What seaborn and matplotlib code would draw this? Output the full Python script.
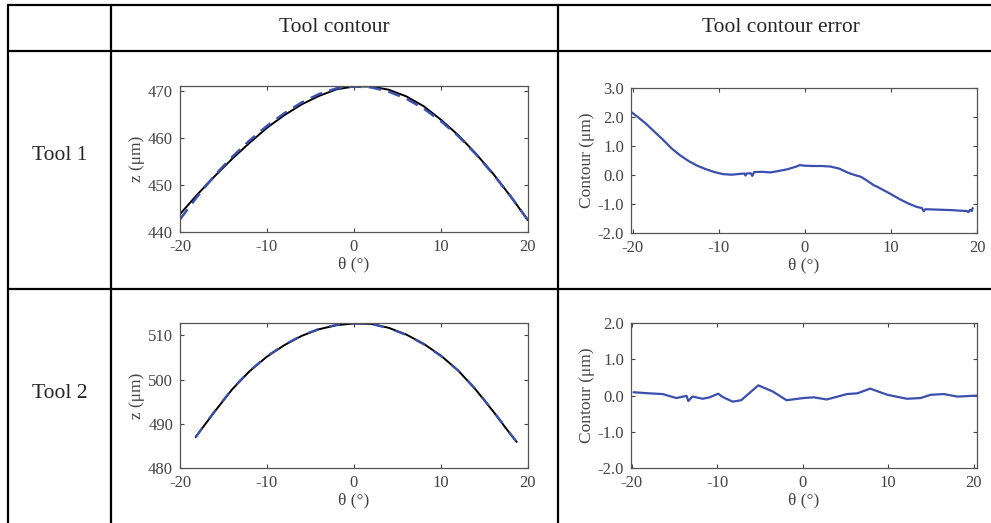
import numpy as np
import pandas as pd
import matplotlib
matplotlib.use("Agg")
import matplotlib.pyplot as plt
import matplotlib.ticker as mticker
import seaborn as sns

# ---- data ----
theta_c1 = [-20, -18, -16, -14, -12, -10, -8, -6, -4, -2, 0, 2, 4, 6, 8, 10, 12, 14, 16, 18, 20]
z_tool1_meas = [443.8, 448.0, 451.9, 455.6, 459.0, 462.2, 464.9, 467.2, 469.0, 470.4, 471.0,
                471.0, 470.3, 468.9, 466.8, 463.9, 460.6, 456.7, 452.4, 447.6, 442.5]
z_tool1_ref = [442.7, 447.6, 452.1, 456.0, 459.5, 462.6, 465.3, 467.6, 469.4, 470.6, 471.0,
               470.8, 469.9, 468.4, 466.3, 463.6, 460.4, 456.6, 452.3, 447.6, 442.5]

theta_c2 = [-18.2, -16, -14, -12, -10, -8, -6, -4, -2, 0, 2, 4, 6, 8, 10, 12, 14, 16, 18, 18.7]
z_tool2_meas = [487.0, 492.8, 497.8, 501.9, 505.2, 507.8, 509.9, 511.4, 512.3, 512.7,
                512.6, 511.7, 510.2, 508.1, 505.4, 502.0, 497.7, 492.8, 487.6, 485.9]
z_tool2_ref = [487.0, 492.9, 497.9, 502.0, 505.3, 507.9, 510.0, 511.5, 512.4, 512.7,
               512.6, 511.6, 510.1, 508.0, 505.3, 502.0, 497.8, 492.9, 487.7, 485.9]

theta_e1 = [-20.3, -19.5, -18.5, -17.5, -16.5, -15.5, -14.5, -13.5, -12.5, -11.5, -10.5,
            -9.5, -8.5, -7.5, -7.0, -6.9, -6.8, -6.3, -6.1, -5.9, -5.0, -4.0, -3.0, -2.0,
            -1.0, -0.6, 0.0, 1.0, 2.0, 3.0, 4.0, 5.0, 6.0, 6.5, 7.0, 8.0, 8.5, 9.0, 10.0,
            11.0, 12.0, 13.0, 13.6, 13.8, 14.0, 15.0, 16.0, 17.0, 18.0, 18.8, 19.0, 19.2,
            19.4, 19.5]
err_tool1 = [2.20, 2.02, 1.78, 1.50, 1.22, 0.92, 0.68, 0.48, 0.32, 0.20, 0.10,
             0.03, 0.01, 0.04, 0.05, -0.02, 0.05, 0.06, -0.03, 0.10, 0.11, 0.09, 0.14, 0.20,
             0.29, 0.34, 0.32, 0.31, 0.31, 0.29, 0.22, 0.08, -0.02, -0.06, -0.15, -0.35, -0.42,
             -0.50, -0.66, -0.83, -0.98, -1.10, -1.14, -1.25, -1.18, -1.19, -1.20, -1.21,
             -1.23, -1.24, -1.28, -1.20, -1.24, -1.14]

theta_e2 = [-19.8, -18.0, -16.4, -14.8, -13.6, -13.4, -12.9, -11.7, -10.9, -9.9, -9.3,
            -8.2, -7.2, -5.2, -3.5, -1.9, 0.1, 1.3, 2.8, 5.2, 6.4, 7.9, 9.9, 12.2, 13.8,
            15.0, 16.5, 18.1, 20.7]
err_tool2 = [0.09, 0.06, 0.04, -0.07, -0.01, -0.15, -0.03, -0.09, -0.05, 0.05, -0.05,
             -0.17, -0.13, 0.28, 0.11, -0.13, -0.07, -0.05, -0.11, 0.04, 0.06, 0.19, 0.02,
             -0.09, -0.07, 0.02, 0.04, -0.03, 0.00]

col_headers = ["Tool contour", "Tool contour error"]
row_labels = ["Tool 1", "Tool 2"]

# ---- style ----
sns.set_style("ticks")
plt.rcParams['font.family'] = ['Liberation Serif', 'DejaVu Serif']
plt.rcParams['axes.unicode_minus'] = False

BLUE = "#3a4fae"
GRAY = "#444444"

W, H = 991, 523
fig = plt.figure(figsize=(W / 100, H / 100), dpi=100)


def add_ax(left, right, top, bottom):
    return fig.add_axes([left / W, (H - bottom) / H, (right - left) / W, (bottom - top) / H])


# table grid drawn in pixel space
grid = fig.add_axes([0, 0, 1, 1])
grid.set_xlim(0, W)
grid.set_ylim(H, 0)
grid.axis("off")
lw = 1.6
grid.plot([8, W], [5, 5], color="black", lw=lw)
grid.plot([8, W], [51, 51], color="black", lw=lw)
grid.plot([8, W], [289, 289], color="black", lw=lw)
for x in [8, 111, 557.5]:
    grid.plot([x, x], [5, H], color="black", lw=lw)

hdr = 15.5
grid.text(334, 28, col_headers[0], ha="center", va="center", fontsize=hdr)
grid.text(781, 28, col_headers[1], ha="center", va="center", fontsize=hdr)
grid.text(60, 156, row_labels[0], ha="center", va="center", fontsize=hdr)
grid.text(60, 393, row_labels[1], ha="center", va="center", fontsize=hdr)

ax1 = add_ax(180, 528, 86, 232)
ax2 = add_ax(631, 977, 88, 233)
ax3 = add_ax(180, 528, 323, 468)
ax4 = add_ax(631, 977, 323, 468)

sns.lineplot(x=theta_c1, y=z_tool1_meas, ax=ax1, color="black", lw=1.4, sort=False, estimator=None)
sns.lineplot(x=theta_c1, y=z_tool1_ref, ax=ax1, color=BLUE, lw=1.8, ls=(0, (5, 3)), sort=False, estimator=None)
sns.lineplot(x=theta_c2, y=z_tool2_meas, ax=ax3, color="black", lw=1.4, sort=False, estimator=None)
sns.lineplot(x=theta_c2, y=z_tool2_ref, ax=ax3, color=BLUE, lw=1.6, ls=(0, (5, 5)), sort=False, estimator=None)
sns.lineplot(x=theta_e1, y=err_tool1, ax=ax2, color=BLUE, lw=1.6, sort=False, estimator=None)
sns.lineplot(x=theta_e2, y=err_tool2, ax=ax4, color=BLUE, lw=1.6, sort=False, estimator=None)

ax1.set_xlim(-20, 20)
ax1.set_ylim(440, 471.1)
ax1.set_yticks([440, 450, 460, 470])
ax3.set_xlim(-20, 20)
ax3.set_ylim(480, 512.8)
ax3.set_yticks([480, 490, 500, 510])
ax2.set_xlim(-20.2, 20)
ax2.set_ylim(-2, 3)
ax2.set_yticks([-2, -1, 0, 1, 2, 3])
ax4.set_xlim(-20.1, 20.4)
ax4.set_ylim(-2, 2)
ax4.set_yticks([-2, -1, 0, 1, 2])

for ax in (ax1, ax3):
    ax.set_ylabel("z (μm)", fontsize=12.5, color=GRAY, labelpad=2)
for ax in (ax2, ax4):
    ax.set_ylabel("Contour (μm)", fontsize=12.5, color=GRAY, labelpad=2)
    ax.yaxis.set_major_formatter(mticker.FormatStrFormatter("%.1f"))

for ax in (ax1, ax2, ax3, ax4):
    ax.set_xticks([-20, -10, 0, 10, 20])
    ax.set_xlabel("θ (°)", fontsize=12.5, color=GRAY, labelpad=1)
    ax.tick_params(direction="in", top=True, right=True, length=3, width=0.8,
                   labelsize=12, colors=GRAY)
    ax.tick_params(axis="x", pad=5)
    ax.tick_params(axis="y", pad=5)
    for s in ax.spines.values():
        s.set_color("#555555")
        s.set_linewidth(0.9)
    ax.set_facecolor("white")

fig.savefig("out.png", dpi=100)
